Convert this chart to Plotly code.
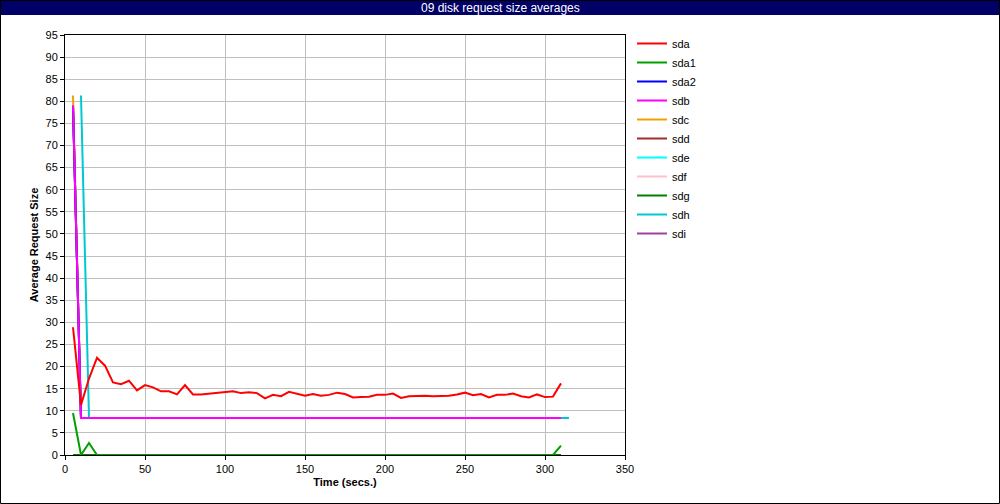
import plotly.graph_objects as go

# ---- data ----
times = [5 * i for i in range(1, 63)]          # 5 .. 310
times_sdh = [5 * i for i in range(2, 64)]      # 10 .. 315

sda = [28.9, 11.3, 17.3, 22.0, 20.2, 16.4, 16.0, 16.8, 14.6, 15.8,
       15.3, 14.4, 14.4, 13.7, 15.8, 13.7, 13.7, 13.9, 14.0, 14.2,
       14.4, 14.0, 14.2, 14.0, 12.8, 13.6, 13.3, 14.3, 13.8, 13.4,
       13.8, 13.4, 13.6, 14.1, 13.8, 13.0, 13.1, 13.2, 13.6, 13.6,
       13.9, 12.9, 13.3, 13.4, 13.4, 13.3, 13.3, 13.4, 13.7, 14.1,
       13.5, 13.8, 13.0, 13.6, 13.6, 13.9, 13.3, 13.0, 13.7, 13.1,
       13.2, 16.2]
sda1 = [9.5, 0.0, 2.7] + [0.0] * 58 + [2.1]
sda2 = [79.0] + [8.37] * 61
sdb = [79.0] + [8.37] * 61
sdc = [81.3] + [8.37] * 61
sdd = [79.0] + [8.37] * 61
sde = [79.0] + [8.37] * 61
sdf = [79.0] + [8.37] * 61
sdg = [0.0] * 62
sdh = [81.3] + [8.37] * 61
sdi = [79.0] + [8.37] * 61

names = ["sda", "sda1", "sda2", "sdb", "sdc", "sdd", "sde", "sdf", "sdg", "sdh", "sdi"]
values = [sda, sda1, sda2, sdb, sdc, sdd, sde, sdf, sdg, sdh, sdi]
xs = [times] * 9 + [times_sdh, times]
colors = ["#FF0000", "#00A000", "#0000FF", "#FF00FF", "#F0A000", "#A52A2A",
          "#00FFFF", "#FFC0CB", "#008000", "#00C8D0", "#A040A0"]
# painting order (bottom first)
draw_order = ["sdi", "sdh", "sdg", "sdf", "sde", "sdd", "sdc", "sda2", "sdb", "sda1", "sda"]

fig = go.Figure()
for n in draw_order:
    i = names.index(n)
    fig.add_trace(go.Scatter(x=xs[i], y=values[i], name=n, mode="lines",
                             legendrank=i + 1,
                             line=dict(color=colors[i], width=2)))

L, R, T, B = 65, 625, 35, 455
W, H = 1000, 504
pw, ph = R - L, B - T
def px(xp):
    return (xp - L) / pw
def py(yp):
    return (B - yp) / ph

font = "Liberation Sans, Arial, sans-serif"

fig.update_layout(
    width=W, height=H,
    margin=dict(l=L, r=W - R, t=T, b=H - B, pad=0),
    paper_bgcolor="white", plot_bgcolor="white",
    font=dict(family=font, size=11, color="black"),
    showlegend=True,
    legend=dict(traceorder="normal", x=px(632), xanchor="left",
                y=py(29), yanchor="top", font=dict(size=11),
                itemwidth=30, bgcolor="rgba(0,0,0,0)", tracegroupgap=0),
    xaxis=dict(range=[0, 350], tick0=0, dtick=50, showgrid=True,
               gridcolor="#C0C0C0", gridwidth=1, zeroline=False,
               showline=True, linecolor="black", linewidth=1, mirror=True,
               ticks="outside", ticklen=4, tickcolor="black",
               title=dict(text="<b>Time (secs.)</b>", font=dict(size=11), standoff=4)),
    yaxis=dict(range=[0, 95], tick0=0, dtick=5, showgrid=True,
               gridcolor="#C0C0C0", gridwidth=1, zeroline=False,
               showline=True, linecolor="black", linewidth=1, mirror=True,
               ticks="outside", ticklen=4, tickcolor="black",
               title=dict(text="<b>Average Request Size</b>", font=dict(size=11), standoff=4)),
    shapes=[
        dict(type="rect", xref="paper", yref="paper",
             x0=px(0), x1=px(1000), y0=py(15), y1=py(0),
             fillcolor="#000066", line=dict(width=0), layer="below"),
        dict(type="rect", xref="paper", yref="paper",
             x0=px(0.5), x1=px(999.5), y0=py(503.5), y1=py(0.5),
             fillcolor="rgba(0,0,0,0)", line=dict(color="black", width=1)),
    ],
    annotations=[
        dict(text="09 disk request size averages", xref="paper", yref="paper",
             x=px(500), y=py(7.5), xanchor="center", yanchor="middle",
             showarrow=False,
             font=dict(family="Liberation Sans Narrow, Liberation Sans, Arial", size=12, color="white")),
    ],
)

fig.write_html("out.html", config={"displayModeBar": False},
               post_script="document.body.style.margin='0px';document.body.style.padding='0px';")
